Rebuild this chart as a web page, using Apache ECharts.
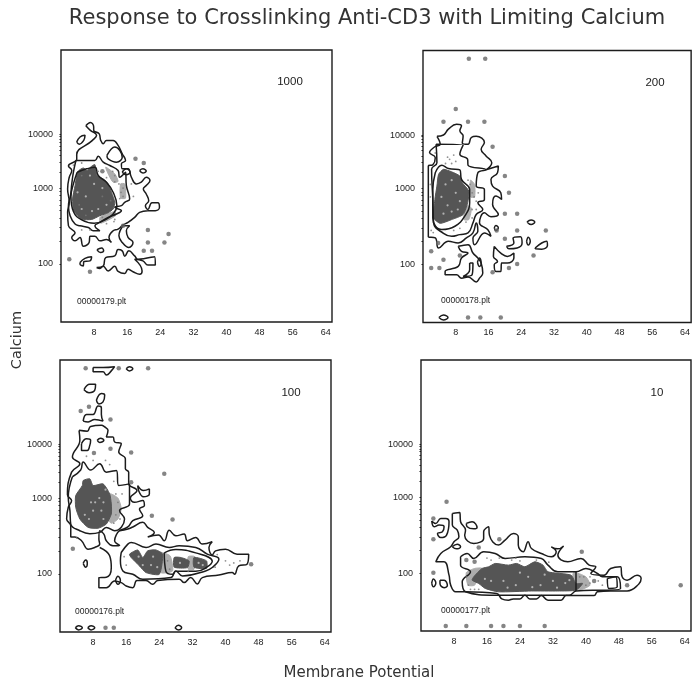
<!DOCTYPE html>
<html><head><meta charset="utf-8">
<style>html,body{margin:0;padding:0;background:#fff}#c{width:693px;height:684px}</style>
<script src="https://cdn.jsdelivr.net/npm/echarts@6/dist/echarts.min.js"></script>
</head><body><div id="c"></div>
<script>
const titleText = 'Response to Crosslinking Anti-CD3 with Limiting Calcium';
const xAxisTitle = 'Membrane Potential';
const yAxisTitle = 'Calcium';
const xTickValues = [8,16,24,32,40,48,56,64];
const yTickValues = [13.9,32,44.8];
const yTickLabels = ['100','1000','10000'];
const yMinorTicks = [13.9,19.4,22.6,24.8,26.6,28,29.2,30.3,31.2,32,35.9,38.2,39.8,41.1,42.1,43,43.7,44.4,44.8];
const panelLabels = ['1000','200','100','10'];
const panelFiles = ['00000179.plt','00000178.plt','00000176.plt','00000177.plt'];

// Panel 1 (1000)
const loops1 = [
[[6,46.9],[7.1,47.7],[7.9,46.6],[7.9,45.8],[9.2,45],[9.6,43.4],[10.2,42.6],[11,43.4],[12.6,43.4],[13.8,42.2],[14.8,40.2],[15.6,38.6],[14.6,37.8],[14.8,36.6],[16.2,36.6],[17,34.6],[18.2,33],[19.4,33.4],[20.6,34.6],[21.5,33.8],[20.6,32.6],[19.9,31.8],[20.6,30.6],[21.2,29],[20.4,27.8],[21,26.9],[22,28.5],[23.4,28.5],[23.8,27.4],[22.8,26.6],[21,26.6],[19,26.2],[17.8,25],[16.2,23.8],[15,23.2],[13.8,22.2],[12.6,21.8],[11.6,20.2],[12.2,19],[11,19.7],[9.4,19.4],[8.2,20.5],[7,20.5],[6.8,19],[5.4,18.1],[4.6,20.2],[3.4,19.4],[2.6,20.2],[3.4,21.3],[1.8,23],[1.6,26.2],[2,28.6],[1.6,31.8],[2,34.6],[2.6,36.2],[1.8,37.3],[3.8,38.9],[3.8,40],[7.6,43.4],[8.6,44.6],[7.1,45.8]],
[[15,23],[16.6,23],[15.8,21.8],[16.2,20.2],[17.4,19],[16.4,17.8],[14.8,19],[14,20.6]],
[[3.6,38.6],[8.2,38.6],[9,39.6],[10.2,38.2],[11.8,37.4],[13.8,36.2],[14.2,34.6],[15.6,35.8],[15.8,32.6],[16.6,29.4],[15.4,28.6],[14.6,27.8],[13,27.4],[14.6,26.6],[13.4,25.8],[11.4,25],[9.4,23.8],[8.2,23],[9.4,21.8],[7.8,21.8],[6.6,22.6],[4.6,23],[3.4,23.4],[2.2,25.4],[1.8,27.8],[2.3,30.2],[2.6,33],[3,35.8]],
[[3.9,35.8],[6.2,36.6],[8.2,37],[9,35],[11,33.4],[12.6,31],[13.5,27.8],[12.6,25.8],[11,24.6],[8,23.6],[5,24.4],[3,26.4],[2.4,30],[3,33]],
[[3.8,43],[4.6,44.2],[5.8,44.6],[5.5,43.4],[4.4,42.5]],
[[11.1,39.8],[13,41.8],[14.8,39.4],[13.4,38.2],[11.4,39]],
[[19,36.2],[19.8,36.6],[20.6,36.1],[19.8,35.6]],
[[14.8,35.8],[15.8,36.6],[16.7,35.8],[15.8,35.2]],
[[4.6,14.2],[5.8,15.2],[7.4,15.6],[7,14.6],[5.5,14.4],[5.4,13.4],[4.6,13.8]],
[[8.7,17.3],[9.8,17.7],[10.3,17],[9.5,16.6]],
[[8.6,13],[10.2,13.4],[10.8,15.4],[13,15.8],[13.8,17.3],[14.8,17],[15.4,15.7],[16.4,17],[17.8,15.8],[18.6,15],[22.6,15.6],[22.8,13.6],[21,13.6],[19.8,14.6],[17.8,15],[19.6,12.2],[19,11.4],[17.4,12],[16.2,12.6],[15.4,11.6],[13.8,12.1],[13,13.3],[11.4,12.2],[10.2,13.3],[9.4,12.8]]
];
const cores1 = [[[4.3,36.2],[5.4,36.8],[6.3,36.2],[7.1,37],[8.2,37.6],[8.7,35],[10.2,34.2],[11.4,33],[12.2,31],[13,28.6],[12.6,27],[11.4,26.1],[9.4,25.4],[7.4,24.5],[5,24.6],[3.1,26.6],[2.8,29.4],[3.4,32.6],[3.8,35]]];
const hatch1 = [[[10.8,37],[13,35.4],[13.8,33.6],[12.6,33.4],[11.6,35]],[[14.4,33],[15.4,33],[15.6,29.6],[14.4,29.6]],[[9.4,25],[13,26.4],[13.2,25.4],[9.6,23.6]]];
const dots1 = [[2,15],[7,12],[18,39],[20,38],[21,22],[26,21],[21,19],[25,19],[20,17],[22,17],[10,36],[15,23]];
const specks1 = [[5,35],[9,36],[4.4,28],[6,25.5],[10,30],[12,29],[11,34.5],[13,35],[14,33],[14.5,31],[15,30],[14.2,29.5],[15,32],[12.5,36],[13,33.5],[10,25],[11,23.5],[13,24.5],[7,22],[5,22],[12.8,24],[17,33],[17.5,30],[3,37.5],[5,38]];
const lights1 = [[7,35],[8,33],[6,30],[9,27],[11,28],[5,27],[10,32],[4,31],[7.5,26.5]];

// Panel 2 (200)
const loops2 = [
[[3.4,44.5],[5,44.8],[6.2,46.2],[8.2,47.4],[9.4,47],[9,45.8],[9.8,44.6],[9.6,42.9],[11,42.6],[11.8,44.2],[13,44.5],[15,43],[14.2,41.4],[15.4,39.8],[16.8,38.2],[15.4,36.5],[18.4,37.4],[18.2,35.8],[16.6,34.2],[17,32.6],[19,31],[19.2,29.4],[17.8,30.2],[17,28.2],[18.4,25.8],[16.6,25.3],[15,26.2],[13.8,23.8],[15.8,22.2],[16.6,20.6],[15,21.4],[12.6,18.6],[12.2,20.2],[13.4,21.8],[13,23.8],[12.2,21.4],[10.6,20.2],[8.6,19],[6.2,19.4],[3.8,17.8],[3,20.2],[1.3,20.5],[1.3,37.4],[2.4,37.7],[3,39.4],[1.6,40.6],[2.9,42],[4.2,42.6]],
[[3.2,42.6],[9.8,42.4],[9,40.2],[10.9,39],[11,37.6],[15.4,36.5],[13.4,35.8],[13,32.6],[15,31.8],[15,29.4],[13.4,28.6],[14.6,27],[13,25.8],[12.2,23.8],[11,21.4],[9,21],[7,20.6],[5,21.3],[2.6,23.8],[2.4,29.4],[2.1,36.6],[3.4,38.2]],
[[3,35.8],[4.6,37.6],[6.2,36.8],[9,36.5],[9.4,34.2],[11.4,31.8],[11.4,28.6],[10.2,25.4],[7.8,23],[4.6,22.2],[2.4,25],[2.4,31.8]],
[[17.4,22.6],[17.8,23.2],[18.4,22.6],[17.8,22]],
[[25.4,24],[26.4,24.5],[27.3,24],[26.4,23.4]],
[[25.3,19.4],[25.7,20.4],[26.2,19.4],[25.7,18.5]],
[[27.4,17.8],[29,19],[30.2,19.4],[30.4,18.4],[29,17.5],[27.5,17.6]],
[[20.4,18.2],[22.2,19],[22,20.2],[23.8,20.5],[24.2,19],[23,17.8],[21,17.6]],
[[17.4,18.2],[19,16.6],[20.6,15.8],[22.2,16.6],[22.2,15.4],[20.6,14.2],[19.2,14.2],[19,12.2],[17.8,12.2],[17.4,13.8],[18.2,14.6],[17.2,15.8]],
[[8.6,18.2],[11,18.6],[12.2,16.6],[13.4,15.4],[14.2,14.2],[14.6,11.8],[13.8,10.6],[13,9.7],[11,10.9],[9.4,10.6],[8.2,11.4],[5.4,11.4],[5.4,12.2],[8.6,13.4],[9.4,15.4],[11,16.6],[9.4,17]],
[[11.4,14.2],[12.2,14.2],[12,11.4],[9.8,11],[11.4,12.6]],
[[13.3,14.4],[13.8,15.4],[14.2,14],[13.8,13.4]],
[[3.9,1.2],[5,1.8],[6.1,1.2],[5,0.6]]
];
const cores2 = [[[3.8,35.4],[5,36.6],[7,36],[9,35],[9.6,33.4],[11.2,31.4],[10.9,28.6],[9.8,25.8],[7,24.6],[4.2,23.7],[2.6,25],[2.9,29.4],[3.4,32.6]]];
const hatch2 = [[[10.4,28],[11.8,27.4],[11.2,24.6],[10,24.6]],[[11.6,34],[12.6,33],[12.6,30],[11.6,30]]];
const dots2 = [[11.2,63],[15.2,63],[8,51],[5,48],[11,48],[15,48],[17,42],[20,35],[21,31],[20,26],[23,26],[23,22],[30,22],[18,22],[20,20],[3.7,19],[2,17],[5,15],[9,16],[2,13],[4,13],[27,16],[23,14],[21,13],[17,12],[11,1.2],[14,1.2],[19,1.2]];
const specks2 = [[6,39.5],[6.5,39],[7.5,40],[8,38.5],[5.5,38],[7,38],[11,34],[11.5,33],[12,31],[12.5,30],[13,29],[13.5,31],[12,27],[13,27],[12,25],[10.5,24],[9,22.5],[7.5,22],[2.5,21.5],[2,22],[3,40.5],[1.8,30],[1.8,33]];
const lights2 = [[5.5,33],[7,34],[8,31],[6,28],[8.5,27],[5,26],[9,29],[4.5,30],[7,26.5]];

// Panel 3 (100)
const loops3 = [
[[4.6,48.2],[6.6,48],[7.4,49.1],[10,49.4],[10.8,49],[11.6,48.2],[11.2,46.6],[12.8,46.6],[13.2,45.4],[14.8,45],[14.2,43],[15.8,41.4],[15.8,39],[16.6,38.2],[16.6,35.4],[18.6,33.8],[17,32],[18,31],[20,31.4],[20.4,30.2],[19.2,29.4],[20,27.8],[17.6,26.6],[16.4,25.1],[14.4,24.2],[13.6,23.2],[13.2,21.8],[14.4,20.7],[12.8,20.6],[11.2,21.8],[10.6,23.4],[9.6,24.2],[9.4,22.2],[9.6,21],[8.4,20.2],[6.8,19.8],[5.2,21.8],[3.6,22.7],[2.6,22.7],[2.6,25.4],[1.6,27],[2,29.8],[2.8,31.4],[1.8,32.8],[2.8,38.2],[4.8,40.2],[3,41.8],[4.8,45.8]],
[[3,37.1],[5,38.7],[5.6,40.6],[7.4,38.7],[9.6,40.2],[11.2,38.2],[13.6,38.6],[14.2,35],[16.8,35.4],[16.8,30.6],[14.4,29],[15.6,27],[13.2,24.2],[11.2,25],[9.6,23.8],[7.2,23.5],[4.8,24.2],[2.6,25.8],[2.4,29],[2,32.2]],
[[5.2,45],[6.4,46.2],[7.4,45.8],[7.2,44.6],[6.6,43.4],[5.2,43.4]],
[[14.8,19],[16.4,21],[17.2,21.4],[20.8,20.2],[23.2,21],[26.4,20.2],[28.8,20.6],[32.8,20.2],[35.6,18.6],[38.4,17.4],[36.8,15.4],[35.2,14.6],[29.6,13.4],[28,14.6],[26.8,13],[20,12.6],[17.6,13.8],[15.2,14.6],[14.6,17]],
[[25.2,18.9],[28,19.7],[32.8,18.9],[36.8,16.9],[35.2,15.3],[32.8,14.5],[28,14.5],[27.2,13.8],[25.6,14.5]],
[[8,63.2],[10.4,63.2],[13.2,63.4],[12.4,62.4],[11.2,61.4],[10.4,62.2],[8,62.2]],
[[16,62.9],[16.8,63.4],[17.6,62.9],[16.8,62.4]],
[[5.8,57.9],[7.2,59.2],[8.6,59.2],[8.4,57.8],[7,57.2]],
[[8.8,55.4],[10,57],[10.8,56.6],[10.4,55],[9.4,54.5]],
[[5.6,50.4],[6.4,52],[8,52],[9.2,54],[10,53.6],[10,52],[10.4,50.4],[8.4,50.8],[6.8,50.2]],
[[9,45.8],[9.8,46.3],[10.6,45.8],[9.6,45.3]],
[[5.6,16.4],[6.2,17.2],[6.6,16.4],[6.2,15.5]],
[[3.7,1],[4.5,1.5],[5.4,1],[4.5,0.5]],
[[6.7,1],[7.5,1.5],[8.4,1],[7.5,0.5]],
[[27.8,1],[28.6,1.6],[29.4,1],[28.6,0.5]],
[[18.8,35],[20.2,33.8],[21.6,34.2],[21.6,33],[20.2,32.3],[19,33.8]],
[[13.4,12.3],[14,13.3],[14.6,12.3],[14,11.4]]
];
const openLines3 = [
[[9.6,20.2],[12,18.2],[12.4,15.4],[11.2,13.1],[9.4,13],[9.4,10.6],[11.2,10.6],[13.2,12.2],[14.8,11.8],[16,11],[17.6,10.6],[18.6,12.3],[20.8,12.3],[22.4,11.4],[23.6,12.3],[28.8,12.6],[30,11.8],[31.6,13],[33.2,11.5],[34.4,13],[38.4,13.6],[41.6,14.2],[42.2,13.8],[43.2,15.8],[45.2,16.2],[45.6,18.6],[42.8,18.6],[40,19.8],[37.6,19.4],[36.8,18.4],[36,20.2],[36.8,21.6],[34.4,21],[32.8,22.6],[30.8,21.8],[30,23.4],[28,23],[26.4,24.3],[25.2,21.8],[23.8,23.2],[21.2,22.7],[22.8,23.8],[21.2,25],[20,26.2],[17.6,25.1],[16.4,24.6],[14.4,24.2]]
];
const cores3 = [
[[3.8,32.6],[5.4,35],[5.6,36.2],[7.2,36.6],[8,35],[10.4,35.4],[12,33],[12.4,30.6],[12.4,28.2],[11.2,25.8],[9.2,24.8],[6.8,25],[4.8,27],[3.8,29.8]],
[[16.8,18.6],[18.8,19.6],[20,17.8],[21.2,19.4],[23.2,19.6],[24.8,18.6],[24,13.8],[20.8,14.2],[19.2,15.8],[17.2,17.8]],
[[27.6,17.8],[29.2,17.8],[31.2,17],[30.8,15.4],[27.6,15.5]],
[[32.4,17.8],[35.4,17],[35.4,15.2],[32.4,15.5]]
];
const hatch3 = [[[12,33],[14,32],[14.8,29.5],[14,27],[12.4,26],[11.6,27]],[[24,19],[26.6,18.2],[27.2,14.6],[24.4,14.2]],[[31,18],[32.6,18],[32.4,15],[31,15]]];
const dots3 = [[6.2,63],[14.2,63],[21.3,63],[5,52.8],[7,53.8],[12.2,50.8],[8.2,42.8],[12.2,43.8],[17.2,42.9],[25.2,37.8],[17.2,35.8],[22.2,27.8],[27.2,26.9],[3.1,19.9],[46.2,16.2],[11,1],[13,1]];
const specks3 = [[6.4,42],[8,41],[11,41],[12,40],[13,36],[13.5,33],[14,31],[15,33],[13.5,28],[14.5,27],[13,26],[4,22.5],[40,17],[41,16],[42,16.5],[43.5,17],[37.5,15.5],[26,17],[26.5,15],[16,16],[15.5,18],[31,14.5],[38,18.5]];
const lights3 = [[7.5,31],[8.5,31],[8,29],[9.5,32],[10,29],[10.5,31],[11,34],[10.5,27],[6,28],[7,27],[20,16],[22,16],[22.5,18],[23.5,15.5],[19,18],[29,16.5],[33.5,16.5],[34.5,16]];

// Panel 4 (10)
const loops4 = [
[[7.6,28.2],[9.4,28.4],[9.6,26.2],[10.8,24.2],[10.6,22.9],[12.8,21],[15.2,22.2],[15.2,23.8],[16.4,25],[16.6,23],[18.8,20.6],[20.4,21.8],[22.4,23.4],[23.6,22.6],[23.6,20.6],[24.8,19],[26,21.4],[26.8,19.8],[29.2,18.6],[31.6,17.8],[32.8,19],[31.6,20.2],[33.2,19.7],[34.6,20.4],[33.2,18.2],[35.6,16.6],[38.8,17.4],[40.8,15.8],[42.4,15.4],[41.2,13.8],[44.4,13.4],[46,15],[48.4,15.4],[48.8,13],[50,12.2],[52.4,13.4],[53.4,12.6],[52.8,11.2],[50,9.6],[46,9.6],[42.8,9.4],[42,8.5],[35.2,8.5],[34,7.4],[30.8,7.4],[29.2,8.5],[28,7.7],[26.4,7.7],[25.2,8.6],[24,7.7],[22.4,7.7],[21.2,7.4],[19.6,7.7],[18.4,9],[10.8,9.4],[8.4,9.4],[7.2,11],[6.8,13.4],[5.6,16.6],[3.6,16.6],[4.8,18.6],[7.2,20.2],[8,21.4],[9.2,22.6],[8.8,24.2],[7.6,25.4]],
[[2.6,26.4],[3.6,25.8],[4.8,27],[6,27],[6.8,26.2],[6.2,23],[4.8,22.4],[4,23.4],[5.2,23.8],[5.6,25],[4.4,25.4],[3.2,25]],
[[2.6,11.5],[3,12.5],[3.6,11.5],[3,10.6]],
[[4.6,12.2],[5.6,12.2],[6.4,10.9],[5.6,10.4],[4.6,11.4]],
[[11,25.8],[12.4,26.2],[13.6,24.8],[12.8,24.5],[11.2,25]],
[[7.6,20.2],[8.8,20.8],[9.6,20.2],[8.6,19.7]],
[[9.6,17.8],[11.2,18.6],[12.8,17.4],[15.2,19],[18,18.6],[20.4,17.4],[25.2,17.8],[29.2,17.4],[30.8,15.8],[33.2,14.2],[37.6,14.2],[40,15],[42.8,13.8],[44,13],[47.6,13],[48.4,10.2],[44.4,9.8],[41.6,9.8],[37.6,9.6],[36,8.6],[18,8.6],[10.8,9.4],[10,11.8],[12,14.2],[9.6,15.8]],
[[45.2,12.6],[47.2,13],[47.6,10.6],[45.6,10.2]]
];
const openLines4 = [[[37.6,14.2],[37.6,9.6]]];
const cores4 = [[[12.8,13],[14.8,15],[16.4,15.4],[18,16.2],[21.2,15.8],[23.2,16.2],[25.2,15.4],[27.6,16.6],[29.6,15.8],[30.8,14.2],[36.4,13.4],[37.6,11.4],[39.2,11.4],[37.6,9.8],[33.2,9.6],[26.8,9.6],[18.8,9.4],[15.6,10.2],[14,11.4],[12.4,12.2]]];
const hatch4 = [[[11,14],[13,15],[14.8,15],[13,11],[11.4,11]],[[37,14],[40,13],[41,11],[39,10],[37,10]]];
const dots4 = [[6.2,31],[3,27],[3,22],[19,22],[14,20],[39,19],[3,14],[63,11],[6,1.2],[11,1.2],[17,1.2],[20,1.2],[24,1.2],[30,1.2],[50,11],[42,12],[13,16.6],[11,17]];
const specks4 = [[16,17.5],[17,17],[19,17.5],[22,17],[23,17.5],[24,16.8],[28,17],[31,16.5],[11,13],[11.5,11],[12,10],[38.5,13],[39.5,13],[41,13],[43,12],[44,11],[40,11],[41,11.5],[13,10],[14,10]];
const lights4 = [[20,12],[23,11],[26,13],[29,11],[32,12],[35,11.5],[17,12],[24,14],[30,13.5],[36,12.2],[15.5,12.5],[27,10.5],[33,10.4],[21,10.4]];

const panels = [
 {l:loops1,o:[],c:cores1,h:hatch1,d:dots1,s:specks1,w:lights1},
 {l:loops2,o:[],c:cores2,h:hatch2,d:dots2,s:specks2,w:lights2},
 {l:loops3,o:openLines3,c:cores3,h:hatch3,d:dots3,s:specks3,w:lights3},
 {l:loops4,o:openLines4,c:cores4,h:hatch4,d:dots4,s:specks4,w:lights4}
];
const gridBoxes = [
 {left:61,top:50,width:271,height:272},
 {left:423,top:50.5,width:269,height:272},
 {left:60,top:360,width:271,height:272},
 {left:421,top:360,width:270,height:271}
];
const labelPos = [[290,82],[655,83],[291,393],[657,393]];
const filePos = [[77,302],[441,301],[75,612],[441,611]];
const INK = '#1c1c1c', FONT = '"Liberation Sans",Arial,sans-serif';

const polySeries = (arr,i,color,z)=>({type:'custom',xAxisIndex:i,yAxisIndex:i,data:arr.map((_,k)=>[k,0]),silent:true,z,
  renderItem:(params,api)=>({type:'polygon',shape:{smooth:0.2,points:arr[params.dataIndex].map(q=>api.coord(q))},
    style:{fill:color,stroke:color,lineWidth:1}})});
const series = [];
panels.forEach((p,i)=>{
  series.push(polySeries(p.h,i,'#adadad',1));
  series.push(polySeries(p.c,i,'#555',2));
  p.l.forEach(loop=>series.push({type:'line',xAxisIndex:i,yAxisIndex:i,data:loop.concat([loop[0]]),showSymbol:false,
    smooth:0.45,lineStyle:{color:INK,width:1.5},silent:true,z:3}));
  p.o.forEach(line=>series.push({type:'line',xAxisIndex:i,yAxisIndex:i,data:line,showSymbol:false,
    smooth:0.45,lineStyle:{color:INK,width:1.5},silent:true,z:3}));
  series.push({type:'scatter',xAxisIndex:i,yAxisIndex:i,data:p.d,symbolSize:4.5,itemStyle:{color:'#666'},silent:true,z:4});
  series.push({type:'scatter',xAxisIndex:i,yAxisIndex:i,data:p.s,symbolSize:1.8,itemStyle:{color:'#777'},silent:true,z:4});
  series.push({type:'scatter',xAxisIndex:i,yAxisIndex:i,data:p.w,symbolSize:2.2,itemStyle:{color:'#c8c8c8'},silent:true,z:4});
});

const chart = echarts.init(document.getElementById('c'),null,{renderer:'canvas'});
chart.setOption({
  backgroundColor:'#fff',animation:false,
  title:{text:titleText,left:362,top:3,textAlign:'center',textStyle:{fontFamily:'"DejaVu Sans"',fontSize:21,fontWeight:'normal',color:'#333'}},
  grid:gridBoxes.map(b=>Object.assign({show:true,borderColor:INK,borderWidth:1.4,backgroundColor:'#fff'},b)),
  xAxis:gridBoxes.map((_,i)=>({type:'value',gridIndex:i,min:0,max:65.5,interval:8,splitLine:{show:false},axisLine:{show:false},axisTick:{show:false},
    axisLabel:{customValues:xTickValues,fontSize:9,color:INK,margin:6,fontFamily:FONT}})),
  yAxis:gridBoxes.map((_,i)=>({type:'value',gridIndex:i,min:0,max:65,splitLine:{show:false},axisLine:{show:false},
    axisTick:{show:true,customValues:yMinorTicks,length:1.5,lineStyle:{color:INK,width:1}},
    axisLabel:{customValues:yTickValues,fontSize:9,color:INK,margin:8,fontFamily:FONT,
      formatter:v=>yTickLabels[yTickValues.indexOf(v)]}})),
  series,
  graphic:[
    ...panelLabels.map((t,i)=>({type:'text',x:labelPos[i][0],y:labelPos[i][1],style:{text:t,font:'11.5px '+FONT,fill:INK,textAlign:'center',textVerticalAlign:'middle'}})),
    ...panelFiles.map((t,i)=>({type:'text',x:filePos[i][0],y:filePos[i][1],style:{text:t,font:'8.5px '+FONT,fill:INK,textAlign:'left',textVerticalAlign:'middle'}})),
    {type:'text',x:359,y:673,style:{text:xAxisTitle,font:'15px "DejaVu Sans"',fill:'#333',textAlign:'center',textVerticalAlign:'middle'}},
    {type:'text',x:17,y:340,rotation:Math.PI/2,style:{text:yAxisTitle,font:'14.5px "DejaVu Sans"',fill:'#333',textAlign:'center',textVerticalAlign:'middle'}}
  ]
});
</script></body></html>
